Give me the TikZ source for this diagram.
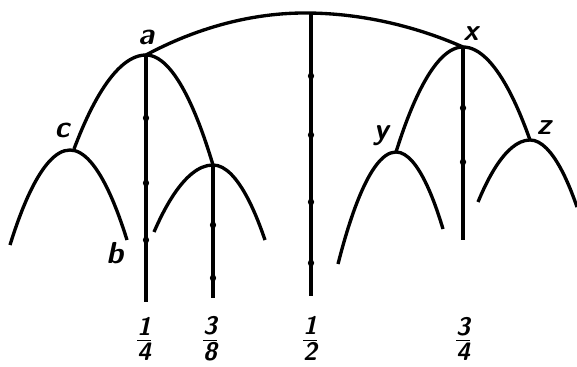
\documentclass[tikz,border=0pt]{standalone}
\usepackage{amsmath}
\tikzset{
  arch/.style={line width=1.9pt},
  stem/.style={line width=2.3pt},
  lbl/.style={font=\sffamily\bfseries\slshape\LARGE, inner sep=1pt},
  frac/.style={font=\sffamily\bfseries\slshape\Large, inner sep=0pt}
}
\newcommand{\fr}[2]{\renewcommand\arraystretch{0.72}%
  \begin{tabular}{@{}c@{}}#1\\[-1pt]\hline\noalign{\vskip1pt}#2\end{tabular}}
\begin{document}
\begin{tikzpicture}[x=0.02cm,y=-0.02cm]
\useasboundingbox (0,0) rectangle (577,367);
% peaks
\coordinate (a) at (146,55);
\coordinate (c) at (70,150);
\coordinate (q) at (213,165);
\coordinate (x) at (463,47);
\coordinate (y) at (396,152);
\coordinate (z) at (530,140);
\coordinate (top) at (305,13);
% top arc
\draw[arch] (a) parabola bend (top) (x);
% big arches
\draw[arch] (74,149) parabola bend (a) (q);
\draw[arch] (y) parabola bend (x) (z);
% small arches
\draw[arch] (10,245) parabola bend (c) (127,240);
\draw[arch] (154,232) parabola bend (q) (265,240);
\draw[arch] (338,264) parabola bend (y) (443,229);
\draw[arch] (478,202) parabola bend (z) (577,207);
% stems
\coordinate (e1) at (146,302);
\coordinate (e2) at (213,298);
\coordinate (e3) at (311,296);
\coordinate (e4) at (463,240);
\draw[stem] (a) -- (e1);
\draw[stem] (q) -- (e2);
\draw[stem] (311,14) -- (e3);
\draw[stem] (x) -- (e4);
% dots
\foreach \yy in {118,183,240} \fill (146,\yy) circle (3.2);
\foreach \yy in {225,278} \fill (213,\yy) circle (3.2);
\foreach \yy in {76,135,202,263} \fill (311,\yy) circle (3.2);
\foreach \yy in {108,162} \fill (463,\yy) circle (3.2);
% letters
\node[lbl] (la) at (146,37) {a};
\node[lbl] (lc) at (62,130) {c};
\node[lbl] (lb) at (115,253) {b};
\node[lbl] (lx) at (471,34) {x};
\node[lbl] (ly) at (381,136) {y};
\node[lbl] (lz) at (544,128) {z};
% fractions
\node[frac] (f1) at (144,342) {\fr{1}{4}};
\node[frac] (f2) at (210,342) {\fr{3}{8}};
\node[frac] (f3) at (310,342) {\fr{1}{2}};
\node[frac] (f4) at (463,342) {\fr{3}{4}};
\end{tikzpicture}
\end{document}
